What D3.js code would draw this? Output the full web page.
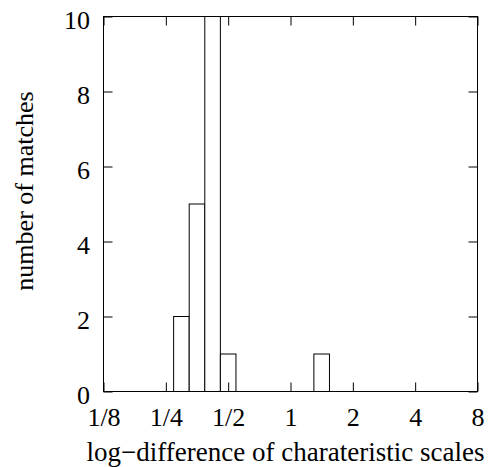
<!DOCTYPE html>
<html>
<head>
<meta charset="utf-8">
<script src="https://cdn.jsdelivr.net/npm/d3@7"></script>
<style>
  body { margin: 0; background: #fff; }
  text { font-family: "Liberation Serif", "Times New Roman", serif; fill: #000; }
</style>
</head>
<body>
<div id="chart"></div>
<script>
// histogram bins on a log2 axis: left edge (log2) and count
var binLeftLog2 = [-1.875, -1.625, -1.375, -1.125, 0.375];
var binCounts = [2, 5, 10, 1, 1];
var binWidthLog2 = 0.25;

var xTickValues = [1/8, 1/4, 1/2, 1, 2, 4, 8];
var xTickLabels = ["1/8", "1/4", "1/2", "1", "2", "4", "8"];
var yTickValues = [0, 2, 4, 6, 8, 10];

var W = 495, H = 467;
var margin = {left: 103.5, right: 17.5, top: 16.5, bottom: 75.5};
var width = W - margin.left - margin.right;
var height = H - margin.top - margin.bottom;

var svg = d3.select("#chart").append("svg")
    .attr("width", W)
    .attr("height", H);
var g = svg.append("g")
    .attr("transform", "translate(" + margin.left + "," + margin.top + ")");

var x = d3.scaleLog().base(2).domain([1/8, 8]).range([0, width]);
var y = d3.scaleLinear().domain([0, 10]).range([height, 0]);

var bins = binLeftLog2.map(function(l, i) {
  return {x0: Math.pow(2, l), x1: Math.pow(2, l + binWidthLog2), n: binCounts[i]};
});

// bars
g.selectAll("rect.bar")
  .data(bins)
  .enter().append("rect")
    .attr("class", "bar")
    .attr("x", function(d) { return x(d.x0); })
    .attr("y", function(d) { return y(d.n); })
    .attr("width", function(d) { return x(d.x1) - x(d.x0); })
    .attr("height", function(d) { return y(0) - y(d.n); })
    .attr("fill", "#fff")
    .attr("stroke", "#000")
    .attr("stroke-width", 1);

// inward ticks on all four sides
var tickLen = 9;
function styleAxis(sel) {
  sel.select(".domain").remove();
  sel.selectAll(".tick line").attr("stroke", "#000").attr("stroke-width", 1);
}

g.append("g")
    .attr("transform", "translate(0," + height + ")")
    .call(d3.axisBottom(x).tickValues(xTickValues)
      .tickSizeInner(-tickLen).tickSizeOuter(0).tickPadding(16)
      .tickFormat(function(d, i) { return xTickLabels[i]; }))
    .call(styleAxis)
    .selectAll("text")
      .style("font-size", "26px")
      .style("font-family", "Liberation Serif");

g.append("g")
    .call(d3.axisTop(x).tickValues(xTickValues)
      .tickSizeInner(-tickLen).tickSizeOuter(0).tickFormat(""))
    .call(styleAxis);

g.append("g")
    .call(d3.axisLeft(y).tickValues(yTickValues)
      .tickSizeInner(-tickLen).tickSizeOuter(0).tickPadding(13.5))
    .call(styleAxis)
    .selectAll("text")
      .attr("dy", "0.45em")
      .style("font-size", "26px")
      .style("font-family", "Liberation Serif");

g.append("g")
    .attr("transform", "translate(" + width + ",0)")
    .call(d3.axisRight(y).tickValues(yTickValues)
      .tickSizeInner(-tickLen).tickSizeOuter(0).tickFormat(""))
    .call(styleAxis);

// frame
g.append("rect")
    .attr("width", width)
    .attr("height", height)
    .attr("fill", "none")
    .attr("stroke", "#000")
    .attr("stroke-width", 1);

// axis titles
g.append("text")
    .attr("x", 182)
    .attr("y", height + 69)
    .attr("text-anchor", "middle")
    .style("font-size", "27px")
    .text("log\u2212difference of charateristic scales");

g.append("text")
    .attr("transform", "translate(" + (-70.5) + "," + 174.5 + ") rotate(-90)")
    .attr("text-anchor", "middle")
    .style("font-size", "26px")
    .text("number of matches");
</script>
</body>
</html>
